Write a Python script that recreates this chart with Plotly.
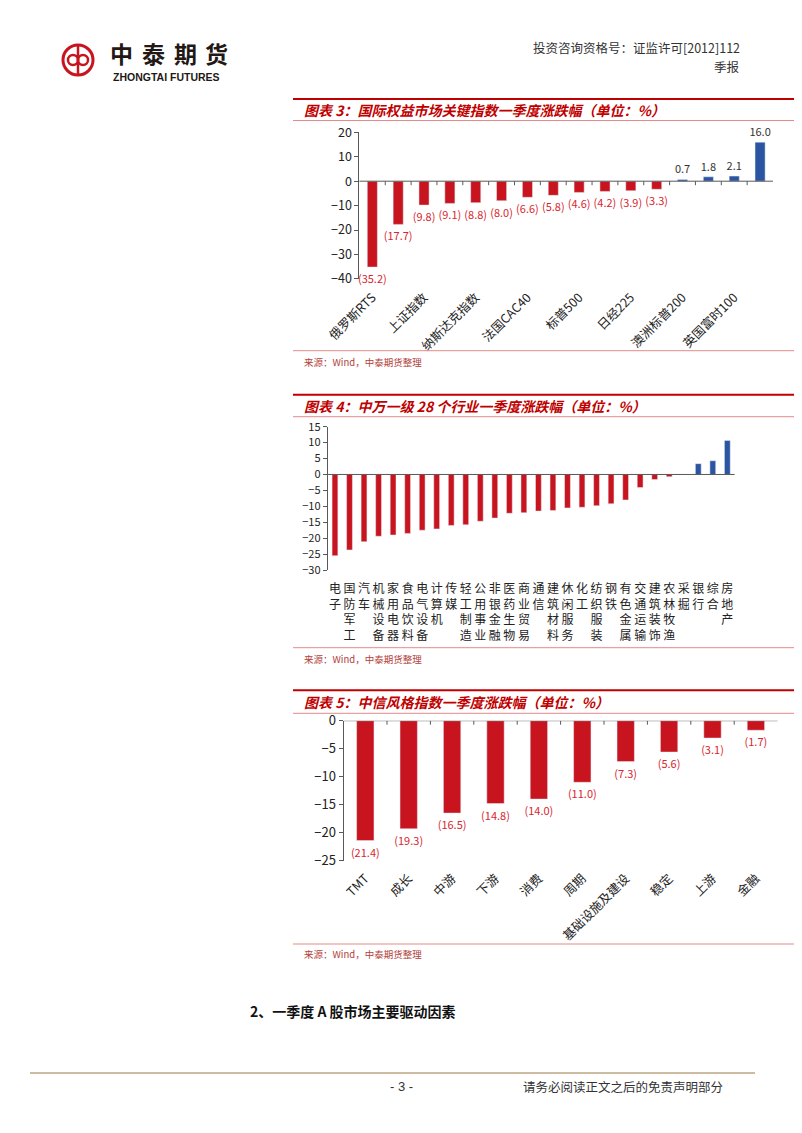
import plotly.graph_objects as go

W, H = 802, 1133
OX, OY = 8, 8  # page body margin of the html page

# ---------------- data ----------------
# Chart 3: international indices (every other label is shown on the axis)
c3_categories = ["俄罗斯RTS", "深证成指", "上证指数", "德国DAX", "纳斯达克指数", "恒生指数",
                 "法国CAC40", "韩国综合指数", "标普500", "道琼斯工业", "日经225", "台湾加权",
                 "澳洲标普200", "印度SENSEX", "英国富时100", "巴西IBOVESPA"]
c3_values = [-35.2, -17.7, -9.8, -9.1, -8.8, -8.0, -6.6, -5.8, -4.6, -4.2, -3.9, -3.3,
             0.7, 1.8, 2.1, 16.0]
c3_tick_labels = ["俄罗斯RTS", "上证指数", "纳斯达克指数", "法国CAC40", "标普500",
                  "日经225", "澳洲标普200", "英国富时100"]

# Chart 4: Shenwan level-1 industries
c4_categories = ["电子", "国防军工", "汽车", "机械设备", "家用电器", "食品饮料", "电气设备",
                 "计算机", "传媒", "轻工制造", "公用事业", "非银金融", "医药生物", "商业贸易",
                 "通信", "建筑材料", "休闲服务", "化工", "纺织服装", "钢铁", "有色金属",
                 "交通运输", "建筑装饰", "农林牧渔", "采掘", "银行", "综合", "房地产"]
c4_values = [-25.5, -23.7, -21.1, -19.4, -19.0, -18.5, -17.5, -17.1, -16.0, -15.8, -14.7,
             -13.7, -12.2, -12.0, -11.5, -11.3, -10.5, -10.3, -9.8, -9.2, -8.0, -4.1,
             -1.6, -0.7, 0.0, 3.4, 4.3, 10.7]

# Chart 5: CITIC style indices
c5_categories = ["TMT", "成长", "中游", "下游", "消费", "周期", "基础设施及建设", "稳定", "上游", "金融"]
c5_values = [-21.4, -19.3, -16.5, -14.8, -14.0, -11.0, -7.3, -5.6, -3.1, -1.7]

# ---------------- styles ----------------
RED = "#C8141E"
BLUE = "#2B55A0"
LABEL_RED = "#D8262E"
TITLE_RED = "#C00000"
THIN_RED = "#E58A8A"
AX = "#595959"
CJK = "Noto Sans CJK SC"


def px(x):
    return (x - OX) / W


def py(y):
    return 1 - (y - OY) / H


def fmt(v):
    return f"({abs(v):.1f})" if v < 0 else f"{v:.1f}"


def colors(vals):
    return [RED if v < 0 else BLUE for v in vals]


fig = go.Figure()

# chart 3
fig.add_trace(go.Bar(
    x=c3_categories, y=c3_values, marker_color=colors(c3_values), width=0.39,
    text=[fmt(v) for v in c3_values], textposition="outside", constraintext="none",
    textfont=dict(size=11, family=CJK, color=[LABEL_RED if v < 0 else "#333333" for v in c3_values]),
    cliponaxis=False, xaxis="x", yaxis="y", hoverinfo="skip"))

# chart 4
fig.add_trace(go.Bar(
    x=c4_categories, y=c4_values, marker_color=colors(c4_values), width=0.4,
    xaxis="x2", yaxis="y2", hoverinfo="skip"))

# chart 5
fig.add_trace(go.Bar(
    x=c5_categories, y=c5_values, marker_color=colors(c5_values), width=0.4,
    text=[fmt(v) for v in c5_values], textposition="outside", constraintext="none",
    textfont=dict(size=11, family=CJK, color=LABEL_RED),
    cliponaxis=False, xaxis="x3", yaxis="y3", hoverinfo="skip"))

yax_common = dict(showgrid=False, showline=True, linecolor=AX, linewidth=1, ticks="outside",
                  ticklen=4, tickcolor=AX, zeroline=False, fixedrange=True, automargin=False)
xax_common = dict(showgrid=False, showline=False, ticks="", zeroline=False, automargin=False,
                  type="category", fixedrange=True)

fig.update_layout(
    width=W, height=H, margin=dict(l=0, r=0, t=0, b=0, pad=0, autoexpand=False),
    paper_bgcolor="white", plot_bgcolor="rgba(0,0,0,0)", showlegend=False,
    font=dict(family=CJK, color="#222222"),
    xaxis=dict(domain=[px(359.4), px(773)], anchor="y",
               tickvals=c3_categories,
               ticktext=[c if c in c3_tick_labels else "" for c in c3_categories],
               tickangle=-45, ticklabelstandoff=8,
               tickfont=dict(size=12.5, family=CJK, color="#222"), **xax_common),
    yaxis=dict(domain=[py(278.8), py(132.4)], anchor="x", range=[-40, 20], dtick=10,
               tickfont=dict(size=12.5, family=CJK, color="#222"), **yax_common),
    xaxis2=dict(domain=[px(327.7), px(734.6)], anchor="y2",
                tickvals=c4_categories,
                ticktext=["<br>".join(list(c)) for c in c4_categories],
                tickangle=0, ticklabelstandoff=10,
                tickfont=dict(size=12, family=CJK, color="#222"), **xax_common),
    yaxis2=dict(domain=[py(570), py(426.7)], anchor="x2", range=[-30, 15], dtick=5,
                tickfont=dict(size=11, family=CJK, color="#222"), **yax_common),
    xaxis3=dict(domain=[px(343.6), px(777.6)], anchor="y3",
                tickangle=-45, ticklabelstandoff=7,
                tickfont=dict(size=12.5, family=CJK, color="#222"), **xax_common),
    yaxis3=dict(domain=[py(860.7), py(720.7)], anchor="x3", range=[-25, 0], dtick=5,
                tickfont=dict(size=13, family=CJK, color="#222"), **yax_common),
)

shapes = []
annotations = []


def hline(x0, x1, y, color, width):
    shapes.append(dict(type="line", xref="paper", yref="paper", x0=px(x0), x1=px(x1),
                       y0=py(y), y1=py(y), line=dict(color=color, width=width)))


def text(x, y, s, size, color="#222222", anchor="left", family=CJK):
    annotations.append(dict(xref="paper", yref="paper", x=px(x), y=py(y), text=s,
                            showarrow=False, xanchor=anchor, yanchor="middle",
                            font=dict(size=size, color=color, family=family)))


# zero axis lines (horizontal category axes cross at 0)
for xname, ya in (("xaxis", "y"), ("xaxis2", "y2"), ("xaxis3", "y3")):
    dom = fig.layout[xname].domain
    shapes.append(dict(type="line", xref="paper", yref=ya, x0=dom[0], x1=dom[1], y0=0, y1=0,
                       line=dict(color=AX, width=1)))

# boundary tick marks on the zero axes of charts 3 and 5
for cats, xa, ya in ((c3_categories, "x", "y"), (c5_categories, "x3", "y3")):
    for i in range(1, len(cats)):
        shapes.append(dict(type="line", xref=xa, yref=ya, x0=i - 0.5, x1=i - 0.5,
                           ysizemode="pixel", yanchor=0, y0=0, y1=-4,
                           line=dict(color=AX, width=1)))

# chart frames: title rule lines, titles, source lines
titles = [
    (99, 110, 120.5, "图表 3：国际权益市场关键指数一季度涨跌幅（单位：%）", 350.7, 362),
    (394.7, 406, 416.7, "图表 4：中万一级 28 个行业一季度涨跌幅（单位：%）", 647.7, 658.5),
    (690.3, 702, 713.3, "图表 5：中信风格指数一季度涨跌幅（单位：%）", 944, 953.5),
]
for top, ty, thin, t, src_line, src_y in titles:
    hline(293, 797, top, TITLE_RED, 2)
    text(302, ty, f"<b><i>{t}</i></b>", 14, TITLE_RED)
    hline(293, 797, thin, THIN_RED, 1)
    hline(293, 797, src_line, THIN_RED, 1)
    text(302, src_y, "来源：Wind，中泰期货整理", 9.5, "#B2413A")

# header
text(742, 47, "投资咨询资格号：证监许可[2012]112", 12.5, "#333333", anchor="right")
text(742, 66, "季报", 12.5, "#333333", anchor="right")

# logo
shapes.append(dict(type="circle", xref="paper", yref="paper", x0=px(63), x1=px(93),
                   y0=py(75), y1=py(45), line=dict(color=RED, width=3)))
shapes.append(dict(type="line", xref="paper", yref="paper", x0=px(78), x1=px(78),
                   y0=py(46), y1=py(74), line=dict(color=RED, width=2.5)))
shapes.append(dict(type="circle", xref="paper", yref="paper", x0=px(68), x1=px(78),
                   y0=py(65), y1=py(55), line=dict(color=RED, width=2.5)))
shapes.append(dict(type="circle", xref="paper", yref="paper", x0=px(78), x1=px(88),
                   y0=py(65), y1=py(55), line=dict(color=RED, width=2.5)))
for ch, cx in zip("中泰期货", (121.5, 153, 185, 216.5)):
    text(cx, 53, f"<b>{ch}</b>", 23, "#231815", anchor="center")
text(111, 76.5, "<b>ZHONGTAI FUTURES</b>", 10.5, "#231815", family="Liberation Sans")

# right page border
shapes.append(dict(type="line", xref="paper", yref="paper", x0=px(800), x1=px(800), y0=0, y1=1,
                   line=dict(color="#9A9A9A", width=1)))

# section heading & footer
text(248, 1011, "<b>2、一季度 A 股市场主要驱动因素</b>", 14, "#111111")
hline(30, 755, 1073, "#CDBBA2", 2)
text(401, 1086, "- 3 -", 13, "#333333", anchor="center", family="Liberation Sans")
text(521, 1086, "请务必阅读正文之后的免责声明部分", 12.5, "#333333")

fig.update_layout(shapes=shapes, annotations=annotations)

fig.write_html("out.html")
